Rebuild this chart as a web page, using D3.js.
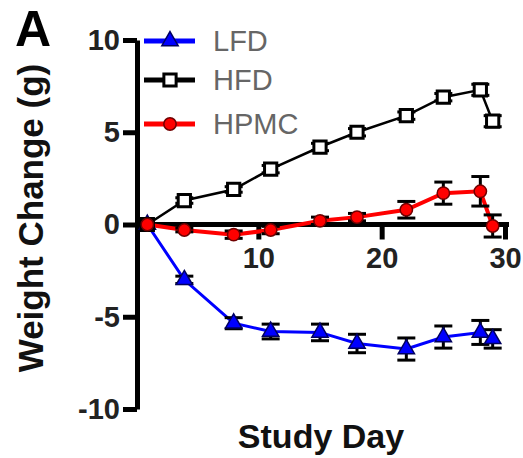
<!DOCTYPE html>
<html>
<head>
<meta charset="utf-8">
<script src="https://cdn.jsdelivr.net/npm/d3@7"></script>
<style>
  html, body { margin: 0; padding: 0; background: #fff; }
  svg { display: block; font-family: 'Liberation Sans', Arial, sans-serif; }
</style>
</head>
<body>
<svg id="chart"></svg>
<script>
const days = [1, 4, 8, 11, 15, 18, 22, 25, 28, 29];
const lfd = [0, -3.0, -5.35, -5.8, -5.85, -6.45, -6.75, -6.1, -5.85, -6.2];
const lfdErr = [0, 0.2, 0.3, 0.4, 0.45, 0.5, 0.6, 0.6, 0.65, 0.5];
const hfd = [0, 1.3, 1.9, 3.0, 4.2, 5.0, 5.9, 6.9, 7.3, 5.6];
const hfdErr = [0, 0.15, 0.15, 0.2, 0.2, 0.2, 0.2, 0.2, 0.3, 0.3];
const hpmc = [0, -0.3, -0.55, -0.3, 0.2, 0.4, 0.8, 1.7, 1.8, -0.08];
const hpmcErr = [0, 0.1, 0.2, 0.2, 0.2, 0.2, 0.45, 0.6, 0.8, 0.6];
const xTicks = [10, 20, 30];
const yTicks = [-10, -5, 0, 5, 10];
const seriesNames = ['LFD', 'HFD', 'HPMC'];

const width = 523;
const height = 458;

const svg = d3.select('#chart').attr('width', width).attr('height', height);

const x = d3.scaleLinear().domain([0, 30]).range([135, 505]);
const y = d3.scaleLinear().domain([-10, 10]).range([409, 40]);

const series = [
  { name: seriesNames[0], values: lfd, err: lfdErr, line: '#0000ff', lw: 3,
    symbol: d3.symbolTriangle, size: 115, fill: '#0000ff', stroke: '#000060', sw: 1.5 },
  { name: seriesNames[1], values: hfd, err: hfdErr, line: '#000', lw: 2.5,
    symbol: d3.symbolSquare, size: 150, fill: '#fff', stroke: '#000', sw: 3 },
  { name: seriesNames[2], values: hpmc, err: hpmcErr, line: '#ff0000', lw: 4,
    symbol: d3.symbolCircle, size: 120, fill: '#ff0000', stroke: '#700000', sw: 1.5 },
];

// axes
const yAxis = d3.axisLeft(y).tickValues(yTicks).tickSize(14).tickSizeOuter(0).tickPadding(3)
  .tickFormat(d3.format('d'));
const xAxis = d3.axisBottom(x).tickValues(xTicks).tickSize(15).tickSizeOuter(0).tickPadding(8);

const gy = svg.append('g').attr('transform', 'translate(137,0)').call(yAxis);
const gx = svg.append('g').attr('transform', `translate(0,${y(0)})`).call(xAxis);

[gx, gy].forEach(g => {
  g.select('.domain').attr('stroke', '#000').attr('stroke-width', 5);
  g.selectAll('.tick line').attr('stroke', '#000').attr('stroke-width', 5);
  g.selectAll('.tick text')
    .attr('fill', '#222')
    .style('font-size', '29px')
    .style('font-weight', 'bold')
    .style('font-family', 'Liberation Sans, Arial, sans-serif');
});
gy.selectAll('.tick text').text(d => (d < 0 ? '-' + Math.abs(d) : d));
gx.select('.domain').attr('d', `M${x(0)},0H${x(30) + 4}`);

// data
const plot = svg.append('g');
const line = d3.line().x((d, i) => x(days[i])).y(d => y(d));

series.forEach(s => {
  plot.append('path')
    .attr('d', line(s.values))
    .attr('fill', 'none')
    .attr('stroke', s.line)
    .attr('stroke-width', s.lw);
});

series.forEach(s => {
  const eb = plot.append('g').attr('stroke', '#000').attr('stroke-width', 3);
  s.values.forEach((v, i) => {
    if (!s.err[i]) return;
    const cx = x(days[i]);
    const y1 = y(v + s.err[i]);
    const y2 = y(v - s.err[i]);
    eb.append('line').attr('x1', cx).attr('x2', cx).attr('y1', y1).attr('y2', y2);
    eb.append('line').attr('x1', cx - 9).attr('x2', cx + 9).attr('y1', y1).attr('y2', y1);
    eb.append('line').attr('x1', cx - 9).attr('x2', cx + 9).attr('y1', y2).attr('y2', y2);
  });
});

series.forEach(s => {
  plot.selectAll(null)
    .data(s.values)
    .enter()
    .append('path')
    .attr('transform', (d, i) => `translate(${x(days[i])},${y(d)})`)
    .attr('d', d3.symbol().type(s.symbol).size(s.size))
    .attr('fill', s.fill)
    .attr('stroke', s.stroke)
    .attr('stroke-width', s.sw);
});

// legend
const legendY = [41, 80, 124];
const legend = svg.append('g');
series.forEach((s, i) => {
  const row = legend.append('g').attr('transform', `translate(0,${legendY[i]})`);
  row.append('line')
    .attr('x1', 144).attr('x2', 195)
    .attr('stroke', s.line)
    .attr('stroke-width', 5);
  row.append('path')
    .attr('transform', 'translate(170,0)')
    .attr('d', d3.symbol().type(s.symbol).size(s.size))
    .attr('fill', s.fill)
    .attr('stroke', s.stroke)
    .attr('stroke-width', s.sw);
  row.append('text')
    .attr('x', 213)
    .attr('y', 10)
    .attr('fill', '#666')
    .style('font-size', '29px')
    .text(s.name);
});

// titles
svg.append('text')
  .attr('x', 15)
  .attr('y', 46)
  .style('font-size', '50px')
  .style('font-weight', 'bold')
  .text('A');

svg.append('text')
  .attr('transform', 'translate(43,218) rotate(-90)')
  .attr('text-anchor', 'middle')
  .style('font-size', '35px')
  .style('font-weight', 'bold')
  .attr('fill', '#111')
  .text('Weight Change (g)');

svg.append('text')
  .attr('x', 321)
  .attr('y', 448)
  .attr('text-anchor', 'middle')
  .style('font-size', '34px')
  .style('font-weight', 'bold')
  .attr('fill', '#111')
  .text('Study Day');
</script>
</body>
</html>
